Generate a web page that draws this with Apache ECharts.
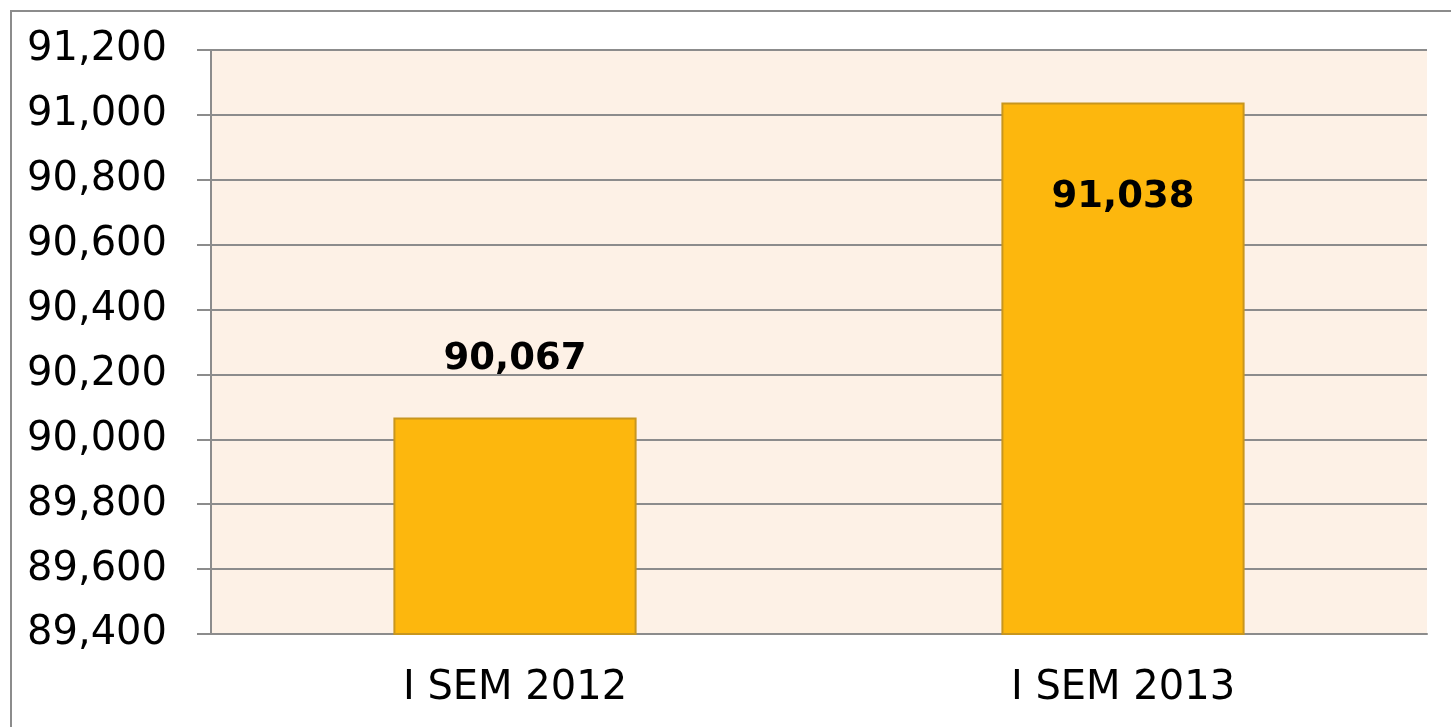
<!DOCTYPE html>
<html>
<head>
<meta charset="utf-8">
<script src="https://cdn.jsdelivr.net/npm/echarts@6/dist/echarts.min.js"></script>
<style>
  html, body { margin: 0; padding: 0; background: #fff; }
  #chart { width: 1451px; height: 727px; }
</style>
</head>
<body>
<div id="chart"></div>
<script>
const categories = ["I SEM 2012", "I SEM 2013"];
const values = [90067, 91038];
const yMin = 89400;
const yMax = 91200;
const yStep = 200;

const fmt = (v) => v.toLocaleString("en-US");
const fontFamily = "'DejaVu Sans', sans-serif";

const chart = echarts.init(document.getElementById("chart"));
chart.setOption({
  animation: false,
  backgroundColor: "#fff",
  graphic: [
    {
      type: "rect",
      shape: { x: 11, y: 11, width: 1460, height: 740 },
      style: { fill: "none", stroke: "#8c8c8c", lineWidth: 2 },
      z: 100,
    },
  ],
  grid: {
    left: 211,
    right: 24,
    top: 50,
    bottom: 93,
    show: true,
    backgroundColor: "#fdf1e6",
    borderWidth: 0,
  },
  xAxis: {
    type: "category",
    data: categories,
    axisLine: { lineStyle: { color: "#8c8c8c", width: 2 } },
    axisTick: { length: 14, lineStyle: { color: "#8c8c8c", width: 2 } },
    axisLabel: {
      color: "#000",
      fontSize: 40,
      fontFamily: fontFamily,
      margin: 35,
    },
  },
  yAxis: {
    type: "value",
    min: yMin,
    max: yMax,
    interval: yStep,
    axisLine: { show: true, lineStyle: { color: "#8c8c8c", width: 2 } },
    axisTick: { show: true, length: 14, lineStyle: { color: "#8c8c8c", width: 2 } },
    splitLine: { lineStyle: { color: "#8c8c8c", width: 2 } },
    axisLabel: {
      color: "#000",
      fontSize: 40,
      fontFamily: fontFamily,
      margin: 44,
      formatter: fmt,
    },
  },
  series: [
    {
      type: "bar",
      barWidth: "40%",
      itemStyle: {
        color: "#fdb70d",
        borderColor: "#c8961e",
        borderWidth: 2,
      },
      label: {
        show: true,
        color: "#000",
        fontSize: 37,
        fontWeight: "bold",
        fontFamily: fontFamily,
        formatter: (p) => fmt(p.value),
      },
      data: [
        { value: values[0], label: { position: "top", distance: 40 } },
        { value: values[1], label: { position: "insideTop", distance: 76 } },
      ],
    },
  ],
});
</script>
</body>
</html>
